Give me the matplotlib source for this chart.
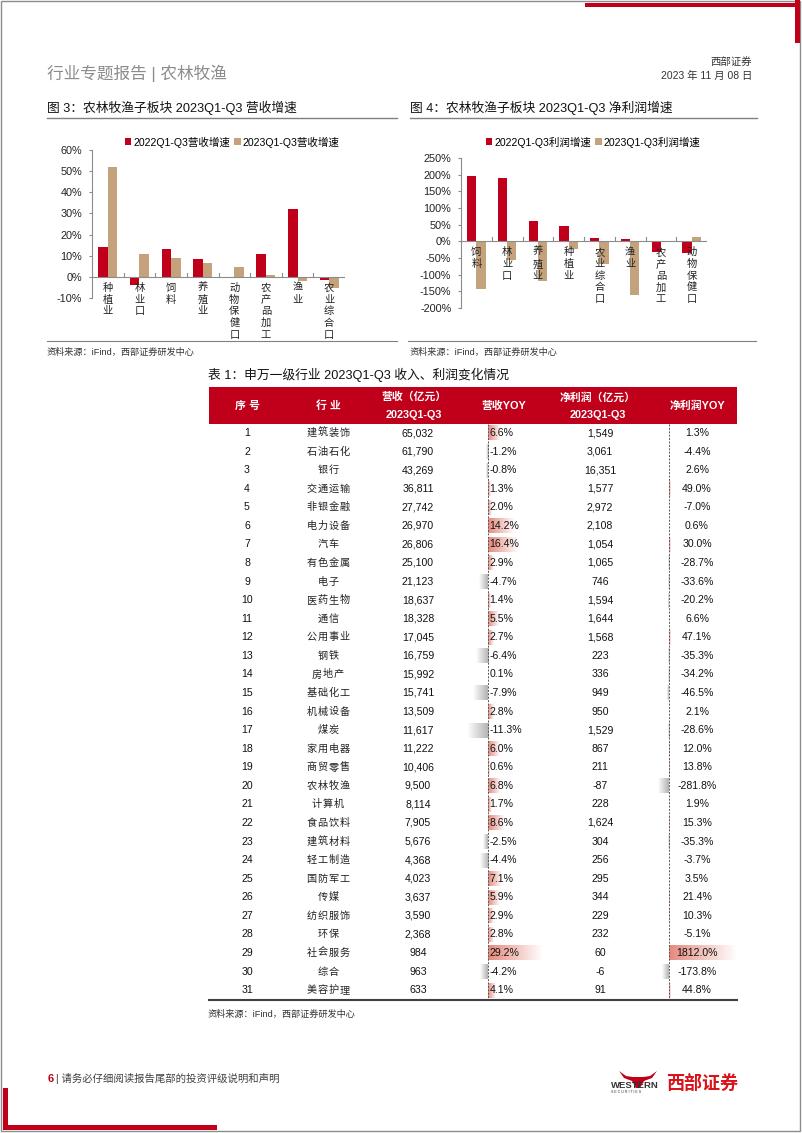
import matplotlib
matplotlib.use('Agg')
import matplotlib.pyplot as plt
import numpy as np
from matplotlib.patches import Rectangle, Polygon
from matplotlib.ticker import FuncFormatter, MultipleLocator
from matplotlib.colors import LinearSegmentedColormap

plt.rcParams['font.family'] = ['Liberation Sans', 'Noto Sans CJK SC']
plt.rcParams['axes.unicode_minus'] = False

W, H = 802, 1133
RED = '#C0001A'
TAN = '#C4A27C'
GREY = '#8C8C8C'

# --- 图3：营收增速 ---
rev_cats = ['种植业', '林业口', '饲料', '养殖业', '动物保健口', '农产品加工', '渔业', '农业综合口']
rev_2022 = [14.0, -4.0, 13.0, 8.5, -0.5, 10.7, 32.0, -1.5]
rev_2023 = [52.0, 11.0, 9.0, 6.5, 4.8, 1.0, -2.0, -5.5]

# --- 图4：利润增速 ---
prof_cats = ['饲料', '林业口', '养殖业', '种植业', '农业综合口', '渔业', '农产品加工', '动物保健口']
prof_2022 = [195, 191, 60, 47, 10, 7, -32, -35]
prof_2023 = [-143, -55, -118, -22, -68, -160, -3, 13]

# --- 表1 ---
seq = list(range(1, 32))
industries = ['建筑装饰', '石油石化', '银行', '交通运输', '非银金融', '电力设备', '汽车', '有色金属',
              '电子', '医药生物', '通信', '公用事业', '钢铁', '房地产', '基础化工', '机械设备',
              '煤炭', '家用电器', '商贸零售', '农林牧渔', '计算机', '食品饮料', '建筑材料', '轻工制造',
              '国防军工', '传媒', '纺织服饰', '环保', '社会服务', '综合', '美容护理']
revenue = [65032, 61790, 43269, 36811, 27742, 26970, 26806, 25100, 21123, 18637, 18328, 17045,
           16759, 15992, 15741, 13509, 11617, 11222, 10406, 9500, 8114, 7905, 5676, 4368,
           4023, 3637, 3590, 2368, 984, 963, 633]
rev_yoy = [6.6, -1.2, -0.8, 1.3, 2.0, 14.2, 16.4, 2.9, -4.7, 1.4, 5.5, 2.7, -6.4, 0.1, -7.9, 2.8,
           -11.3, 6.0, 0.6, 6.8, 1.7, 8.6, -2.5, -4.4, 7.1, 5.9, 2.9, 2.8, 29.2, -4.2, 4.1]
profit = [1549, 3061, 16351, 1577, 2972, 2108, 1054, 1065, 746, 1594, 1644, 1568, 223, 336, 949,
          950, 1529, 867, 211, -87, 228, 1624, 304, 256, 295, 344, 229, 232, 60, -6, 91]
profit_yoy = [1.3, -4.4, 2.6, 49.0, -7.0, 0.6, 30.0, -28.7, -33.6, -20.2, 6.6, 47.1, -35.3, -34.2,
              -46.5, 2.1, -28.6, 12.0, 13.8, -281.8, 1.9, 15.3, -35.3, -3.7, 3.5, 21.4, 10.3, -5.1,
              1812.0, -173.8, 44.8]

fig = plt.figure(figsize=(W / 100, H / 100), dpi=100)
bg = fig.add_axes([0, 0, 1, 1])
bg.axis('off')


def px_axes(l, t, r, b):
    return fig.add_axes([l / W, 1 - b / H, (r - l) / W, (b - t) / H])


def spaced(x, y, s, pitch, **kw):
    # 宽字距的中文（原图用楷体，字距较大）
    start = x - (len(s) - 1) * pitch / 2
    for k, ch in enumerate(s):
        bg.text(start + k * pitch, y, ch, ha='center', **kw)


def bar_chart(box, cats, s1, s2, ymin, ymax, step, names, legend_cx):
    l, t, r, b = box
    ax = px_axes(l, t, r, b)
    ax.patch.set_alpha(0)
    x = np.arange(len(cats))
    ax.bar(x - 0.15, s1, 0.3, color=RED, label=names[0], zorder=2)
    ax.bar(x + 0.15, s2, 0.3, color=TAN, label=names[1], zorder=2)
    ax.set_xlim(-0.5, len(cats) - 0.5)
    ax.set_ylim(ymin, ymax)
    ax.yaxis.set_major_locator(MultipleLocator(step))
    ax.yaxis.set_major_formatter(FuncFormatter(lambda v, p: f'{v:.0f}%'))
    for s in ['top', 'right', 'bottom']:
        ax.spines[s].set_visible(False)
    ax.spines['left'].set_color(GREY)
    ax.spines['left'].set_linewidth(0.8)
    ax.set_xticks([])
    ax.tick_params(axis='y', length=2, color=GREY, labelsize=7.8, pad=5, labelcolor='#222222')
    ax.axhline(0, color=GREY, lw=0.8, zorder=3)
    per_px = (ymax - ymin) / (b - t)
    for k in range(len(cats) + 1):
        ax.plot([k - 0.5, k - 0.5], [0, 4 * per_px], color=GREY, lw=0.8, zorder=3)
    for i, c in enumerate(cats):
        for j, ch in enumerate(c):
            ax.annotate(ch, xy=(i, 0), xytext=(0, -(11 + j * 11.7) * 0.72), textcoords='offset points',
                        ha='center', va='center', fontsize=7.4, color='#222222', zorder=5)
    ax.legend(loc='center', bbox_to_anchor=(legend_cx / W, 1 - 142 / H), bbox_transform=fig.transFigure,
              ncol=2, frameon=False, fontsize=7.6, handlelength=0.65, handleheight=0.65,
              handletextpad=0.15, columnspacing=0.4, borderaxespad=0)
    return ax


bar_chart((92, 150, 345, 298), rev_cats, rev_2022, rev_2023, -10, 60, 10,
          ['2022Q1-Q3营收增速', '2023Q1-Q3营收增速'], 232)
bar_chart((461, 158, 707, 308), prof_cats, prof_2022, prof_2023, -200, 250, 50,
          ['2022Q1-Q3利润增速', '2023Q1-Q3利润增速'], 593)

# 页面框和装饰
bg.add_patch(Rectangle((0.8, 0.8), W - 2.6, H - 2.6, fill=False, edgecolor='#8C8C8C', lw=1))
bg.add_patch(Rectangle((585, 2.5), 215, 4.5, color=RED, lw=0))
bg.add_patch(Rectangle((794.5, 0), 5, 43, color=RED, lw=0))
bg.add_patch(Rectangle((2.5, 1088), 5, 42, color=RED, lw=0))
bg.add_patch(Rectangle((2.5, 1125), 214, 5, color=RED, lw=0))

# 页眉
bg.text(47, 73, '行业专题报告 | 农林牧渔', fontsize=12, color='#8C8C8C', va='center')
bg.text(752, 62, '西部证券', fontsize=7.5, color='#333333', ha='right', va='center')
bg.text(752, 76, '2023 年 11 月 08 日', fontsize=7.5, color='#333333', ha='right', va='center')

bg.text(47, 108, '图 3：农林牧渔子板块 2023Q1-Q3 营收增速', fontsize=9.2, color='#111111', va='center')
bg.text(410, 108, '图 4：农林牧渔子板块 2023Q1-Q3 净利润增速', fontsize=9.2, color='#111111', va='center')
bg.plot([47, 397], [117.5, 117.5], color='#808080', lw=1)
bg.plot([410, 757], [117.5, 117.5], color='#808080', lw=1)
bg.plot([47, 397], [341, 341], color='#808080', lw=0.8)
bg.plot([408, 756], [341, 341], color='#808080', lw=0.8)
bg.text(47, 352, '资料来源：iFind，西部证券研发中心', fontsize=6.6, color='#333333', va='center')
bg.text(410, 352, '资料来源：iFind，西部证券研发中心', fontsize=6.6, color='#333333', va='center')

# 表格
bg.text(208, 375, '表 1：申万一级行业 2023Q1-Q3 收入、利润变化情况', fontsize=9.2, color='#111111', va='center')
bg.add_patch(Rectangle((209, 387), 528, 37, color=RED, lw=0))
hdr = dict(fontsize=7.8, color='white', weight='bold', va='center')
spaced(247, 405.5, '序号', 13, **hdr)
spaced(328, 405.5, '行业', 13, **hdr)
bg.text(414, 397, '营收（亿元）', ha='center', **hdr)
bg.text(414, 415, '2023Q1-Q3', ha='center', **hdr)
bg.text(504, 405.5, '营收YOY', ha='center', **hdr)
bg.text(598, 397, '净利润（亿元）', ha='center', **hdr)
bg.text(598, 415, '2023Q1-Q3', ha='center', **hdr)
bg.text(697, 405.5, '净利润YOY', ha='center', **hdr)

pos_cmap = LinearSegmentedColormap.from_list('pos', ['#E58A7E', '#FFFFFF'])
neg_cmap = LinearSegmentedColormap.from_list('neg', ['#FFFFFF', '#B2B2B2'])
grad = np.linspace(0, 1, 64).reshape(1, -1)


def data_bar(axis_x, val, scale, y):
    w = val * scale
    if abs(w) < 0.3:
        return
    if w > 0:
        bg.imshow(grad, cmap=pos_cmap, extent=(axis_x, axis_x + w, y + 7.5, y - 7.5), aspect='auto',
                  interpolation='bilinear', zorder=1)
    else:
        bg.imshow(grad, cmap=neg_cmap, extent=(axis_x + w, axis_x, y + 7.5, y - 7.5), aspect='auto',
                  interpolation='bilinear', zorder=1)


row0, pitch = 433, 18.57
cell = dict(fontsize=7.6, color='#111111', va='center', zorder=3)
for i in range(len(seq)):
    y = row0 + i * pitch
    data_bar(488, rev_yoy[i], 1.88, y)
    data_bar(669, profit_yoy[i], 0.0375, y)
    bg.text(247, y, str(seq[i]), ha='center', **cell)
    spaced(328, y, industries[i], 11, fontsize=7.3, color='#222222', va='center', zorder=3)
    bg.text(418, y, f'{revenue[i]:,}', ha='center', **cell)
    bg.text(489.5, y, f'{rev_yoy[i]:.1f}%', ha='left', **cell)
    bg.text(600, y, f'{profit[i]:,}', ha='center', **cell)
    bg.text(697, y, f'{profit_yoy[i]:.1f}%', ha='center', **cell)

bg.plot([488, 488], [424, 1000], color='#555555', lw=0.7, ls=(0, (2, 1.5)), zorder=2)
bg.plot([669, 669], [424, 1000], color='#555555', lw=0.7, ls=(0, (2, 1.5)), zorder=2)
bg.plot([209, 737], [1000, 1000], color='#404040', lw=1.5, zorder=2)
bg.text(208, 1014, '资料来源：iFind，西部证券研发中心', fontsize=6.6, color='#333333', va='center')

# 页脚
bg.text(48, 1079, '6', fontsize=8, color=RED, weight='bold', va='center')
bg.text(56, 1079, '| 请务必仔细阅读报告尾部的投资评级说明和声明', fontsize=7.5, color='#404040', va='center')
bg.add_patch(Polygon([[619, 1071], [624, 1078], [632, 1081], [636, 1088], [640, 1088], [644, 1081],
                      [652, 1078], [657, 1071], [650, 1076], [643, 1077], [633, 1077], [626, 1076]],
                     closed=True, color=RED, lw=0))
bg.text(611, 1085, 'WESTERN', fontsize=6.8, color='#333333', weight='bold', va='center')
bg.text(611, 1092, 'S E C U R I T I E S', fontsize=2.6, color='#333333', va='center')
bg.text(666, 1084, '西部证券', fontsize=13, color='#D7141A', weight='bold', va='center')

bg.set_xlim(0, W)
bg.set_ylim(H, 0)

fig.savefig('out.png', dpi=100)
